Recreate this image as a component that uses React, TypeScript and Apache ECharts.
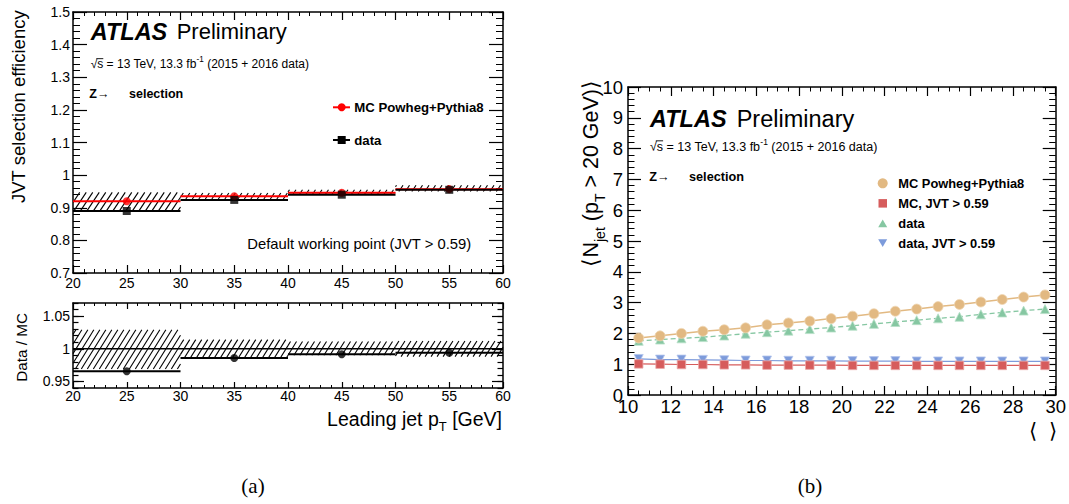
import React, { useEffect, useRef } from "react";
import * as echarts from "echarts";

const FONT = "'Liberation Sans', Arial, Helvetica, sans-serif";
const SERIF = "'Liberation Serif', 'Times New Roman', serif";

// ---------- Panel (a): JVT efficiency vs leading jet pT ----------
const ptBinLo = [20, 30, 40, 50];
const ptBinHi = [30, 40, 50, 60];
const ptCenters = [25, 35, 45, 55];
const effMC = [0.92, 0.935, 0.946, 0.957];
const effMCStat = [0.001, 0.001, 0.002, 0.002];
const effData = [0.89, 0.924, 0.94, 0.955];
const effBandLo = [0.892, 0.927, 0.94, 0.95];
const effBandHi = [0.947, 0.945, 0.955, 0.969];
const ratioVals = [0.9655, 0.986, 0.9917, 0.9938];
const ratioBandLo = [0.969, 0.986, 0.99, 0.988];
const ratioBandHi = [1.029, 1.014, 1.011, 1.012];
const ratioMajorTicks = [0.95, 1, 1.05];

// ---------- Panel (b): <N_jet> vs <mu> ----------
const muBins = [10.5, 11.5, 12.5, 13.5, 14.5, 15.5, 16.5, 17.5, 18.5, 19.5, 20.5, 21.5, 22.5, 23.5, 24.5, 25.5, 26.5, 27.5, 28.5, 29.5];
const nJetMC = [1.85, 1.92, 2.0, 2.07, 2.12, 2.18, 2.28, 2.34, 2.4, 2.48, 2.56, 2.64, 2.72, 2.79, 2.87, 2.94, 3.02, 3.1, 3.18, 3.25];
const nJetMCJVT = [1.01, 1.0, 0.99, 0.99, 0.98, 0.98, 0.97, 0.97, 0.97, 0.97, 0.96, 0.96, 0.96, 0.96, 0.96, 0.96, 0.96, 0.96, 0.96, 0.96];
const nJetData = [1.76, 1.8, 1.84, 1.88, 1.93, 1.99, 2.04, 2.09, 2.14, 2.19, 2.25, 2.31, 2.37, 2.43, 2.49, 2.54, 2.62, 2.68, 2.74, 2.79];
const nJetDataJVT = [1.17, 1.15, 1.15, 1.14, 1.13, 1.12, 1.12, 1.11, 1.11, 1.11, 1.1, 1.1, 1.1, 1.09, 1.09, 1.09, 1.09, 1.09, 1.09, 1.09];

const TAN = "#e2b982";
const RED = "#d65c5c";
const GREEN = "#86c7a2";
const BLUE = "#7d9bdb";

let mctx: CanvasRenderingContext2D | null = null;
function textWidth(t: string, font: string): number {
  if (!mctx) mctx = document.createElement("canvas").getContext("2d");
  if (!mctx) return t.length * 7;
  mctx.font = font;
  return mctx.measureText(t).width;
}

type Seg = { t: string; size: number; weight?: string; style?: string; dy?: number };
function richLine(segs: Seg[], x: number, y: number, align: "left" | "right" | "center", rotation = 0, family = FONT) {
  const widths = segs.map((s) => textWidth(s.t, `${s.style || "normal"} ${s.weight || "normal"} ${s.size}px ${family}`));
  const total = widths.reduce((a, b) => a + b, 0);
  let cx = align === "left" ? 0 : align === "right" ? -total : -total / 2;
  const children = segs.map((s, i) => {
    const el = {
      type: "text",
      x: cx,
      y: s.dy || 0,
      silent: true,
      style: {
        text: s.t,
        fill: "#000",
        fontSize: s.size,
        fontFamily: family,
        fontWeight: s.weight || "normal",
        fontStyle: s.style || "normal",
        align: "left",
        textAlign: "left",
        verticalAlign: "middle",
        textVerticalAlign: "middle",
      },
    };
    cx += widths[i];
    return el;
  });
  return { type: "group", x, y, rotation, children };
}

function sqrtLine(x: number, y: number, size: number) {
  const wRoot = textWidth("√", `${size}px ${FONT}`);
  const wS = textWidth("s", `${size}px ${FONT}`);
  const g: any = richLine([{ t: "√s = 13 TeV, 13.3 fb", size }, { t: "-1", size: size * 0.68, dy: -4.5 }, { t: " (2015 + 2016 data)", size }], x, y, "left");
  g.children.push({
    type: "line",
    silent: true,
    shape: { x1: wRoot * 0.85, y1: -size * 0.47, x2: wRoot + wS, y2: -size * 0.47 },
    style: { stroke: "#000", lineWidth: 0.9 },
  });
  return g;
}

function txt(t: string, x: number, y: number, size: number, weight = "normal", style = "normal", align = "left", family = FONT) {
  return {
    type: "text",
    x,
    y,
    silent: true,
    style: {
      text: t,
      fill: "#000",
      fontSize: size,
      fontFamily: family,
      fontWeight: weight,
      fontStyle: style,
      align,
      textAlign: align,
      verticalAlign: "middle",
      textVerticalAlign: "middle",
    },
  };
}

function hatchRender(spacing: number, slope: number) {
  return (_params: any, api: any) => {
    const pA = api.coord([api.value(0), api.value(3)]);
    const pB = api.coord([api.value(1), api.value(2)]);
    const left = pA[0], top = pA[1], right = pB[0], bottom = pB[1];
    const children: any[] = [];
    const cMin = left + top / slope;
    const cMax = right + bottom / slope;
    const cStart = Math.ceil(cMin / spacing) * spacing;
    for (let c = cStart; c <= cMax; c += spacing) {
      const xa = Math.max(left, c - bottom / slope);
      const xb = Math.min(right, c - top / slope);
      if (xb - xa > 0.2) {
        children.push({
          type: "line",
          shape: { x1: xa, y1: (c - xa) * slope, x2: xb, y2: (c - xb) * slope },
          style: { stroke: "#000", lineWidth: 1.1 },
        });
      }
    }
    return { type: "group", children };
  };
}

function segRender(color: string, width: number) {
  return (_params: any, api: any) => {
    const p0 = api.coord([api.value(0), api.value(2)]);
    const p1 = api.coord([api.value(1), api.value(2)]);
    return {
      type: "line",
      shape: { x1: p0[0], y1: p0[1], x2: p1[0], y2: p1[1] },
      style: { stroke: color, lineWidth: width },
    };
  };
}

function rectRender(color: string) {
  return (_params: any, api: any) => {
    const pA = api.coord([api.value(0), api.value(3)]);
    const pB = api.coord([api.value(1), api.value(2)]);
    return {
      type: "rect",
      shape: { x: pA[0], y: pA[1], width: pB[0] - pA[0], height: pB[1] - pA[1] },
      style: { fill: color },
    };
  };
}

function axis(opts: any) {
  const { gridIndex, position, min, max, interval, minorSplit, majorLen, minorLen, labels, fontSize, margin } = opts;
  return {
    type: "value",
    gridIndex,
    position,
    min,
    max,
    interval,
    axisLine: { show: opts.line !== false, onZero: false, lineStyle: { color: "#000", width: 1.5 } },
    axisTick: {
      show: true,
      inside: true,
      length: majorLen,
      lineStyle: { color: "#000", width: 1.2 },
      ...(opts.tickValues ? { customValues: opts.tickValues } : {}),
    },
    minorTick: { show: minorSplit > 0, splitNumber: minorSplit || 5, length: minorLen, lineStyle: { color: "#000", width: 1 } },
    splitLine: { show: false },
    minorSplitLine: { show: false },
    axisLabel: {
      show: !!labels,
      color: "#000",
      fontFamily: FONT,
      fontSize: fontSize || 12,
      margin: margin || 4,
      ...(opts.tickValues ? { customValues: opts.tickValues } : {}),
    },
  };
}

export default function App() {
  const ref = useRef<HTMLDivElement>(null);
  useEffect(() => {
    if (!ref.current) return;
    const chart = echarts.init(ref.current, undefined, { renderer: "svg" });

    const effBand = ptBinLo.map((lo, i) => [lo, ptBinHi[i], effBandLo[i], effBandHi[i]]);
    const mcStat = ptBinLo.map((lo, i) => [lo, ptBinHi[i], effMC[i] - effMCStat[i], effMC[i] + effMCStat[i]]);
    const mcSegs = ptBinLo.map((lo, i) => [lo, ptBinHi[i], effMC[i]]);
    const dataSegs = ptBinLo.map((lo, i) => [lo, ptBinHi[i], effData[i]]);
    const ratioBand = ptBinLo.map((lo, i) => [lo, ptBinHi[i], ratioBandLo[i], ratioBandHi[i]]);
    const ratioSegs = ptBinLo.map((lo, i) => [lo, ptBinHi[i], ratioVals[i]]);
    const unityLine = [[ptBinLo[0], ptBinHi[ptBinHi.length - 1], 1]];

    const option: any = {
      animation: false,
      backgroundColor: "#fff",
      grid: [
        { left: 73, top: 12, width: 430, height: 261 },
        { left: 73, top: 303, width: 430, height: 85 },
        { left: 628, top: 87, width: 429, height: 308 },
      ],
      xAxis: [
        axis({ gridIndex: 0, position: "bottom", min: 20, max: 60, interval: 5, minorSplit: 5, majorLen: 8, minorLen: 4, labels: true, fontSize: 14, margin: 3 }),
        axis({ gridIndex: 0, position: "top", min: 20, max: 60, interval: 5, minorSplit: 5, majorLen: 8, minorLen: 4 }),
        axis({ gridIndex: 1, position: "bottom", min: 20, max: 60, interval: 5, minorSplit: 5, majorLen: 6, minorLen: 3, labels: true, fontSize: 14, margin: 1 }),
        axis({ gridIndex: 1, position: "top", min: 20, max: 60, interval: 5, minorSplit: 5, majorLen: 6, minorLen: 3 }),
        axis({ gridIndex: 2, position: "bottom", min: 10, max: 30, interval: 2, minorSplit: 4, majorLen: 9, minorLen: 4.5, labels: true, fontSize: 18.5, margin: 2 }),
        axis({ gridIndex: 2, position: "top", min: 10, max: 30, interval: 2, minorSplit: 4, majorLen: 9, minorLen: 4.5 }),
      ],
      yAxis: [
        axis({ gridIndex: 0, position: "left", min: 0.7, max: 1.5, interval: 0.1, minorSplit: 5, majorLen: 14, minorLen: 7, labels: true, fontSize: 14, margin: 3 }),
        axis({ gridIndex: 0, position: "right", min: 0.7, max: 1.5, interval: 0.1, minorSplit: 5, majorLen: 14, minorLen: 7 }),
        axis({ gridIndex: 1, position: "left", min: 0.94, max: 1.07, minorSplit: 0, majorLen: 11, minorLen: 5, labels: true, fontSize: 14, margin: 3, tickValues: ratioMajorTicks }),
        axis({ gridIndex: 1, position: "right", min: 0.94, max: 1.07, minorSplit: 0, majorLen: 11, minorLen: 5, tickValues: ratioMajorTicks }),
        axis({ gridIndex: 1, position: "left", min: 0.94, max: 1.07, interval: 0.01, minorSplit: 0, majorLen: 5.5, minorLen: 3, line: false }),
        axis({ gridIndex: 1, position: "right", min: 0.94, max: 1.07, interval: 0.01, minorSplit: 0, majorLen: 5.5, minorLen: 3, line: false }),
        axis({ gridIndex: 2, position: "left", min: 0, max: 10, interval: 1, minorSplit: 5, majorLen: 13, minorLen: 6.5, labels: true, fontSize: 18.5, margin: 5 }),
        axis({ gridIndex: 2, position: "right", min: 0, max: 10, interval: 1, minorSplit: 5, majorLen: 13, minorLen: 6.5 }),
      ],
      series: [
        // ---- panel (a) top ----
        { type: "custom", name: "MC syst band", xAxisIndex: 0, yAxisIndex: 0, renderItem: hatchRender(6.5, 1.5), data: effBand, z: 2, clip: true, encode: { x: [0, 1], y: [2, 3] } },
        { type: "custom", name: "MC stat", xAxisIndex: 0, yAxisIndex: 0, renderItem: rectRender("rgba(255,0,0,0.35)"), data: mcStat, z: 3, encode: { x: [0, 1], y: [2, 3] } },
        { type: "custom", name: "MC line", xAxisIndex: 0, yAxisIndex: 0, renderItem: segRender("#ff0000", 2), data: mcSegs, z: 4, encode: { x: [0, 1], y: 2 } },
        { type: "custom", name: "data line", xAxisIndex: 0, yAxisIndex: 0, renderItem: segRender("#000", 2), data: dataSegs, z: 4, encode: { x: [0, 1], y: 2 } },
        { type: "scatter", name: "MC Powheg+Pythia8 (a)", xAxisIndex: 0, yAxisIndex: 0, symbol: "circle", symbolSize: 8, itemStyle: { color: "#ff0000" }, data: ptCenters.map((x, i) => [x, effMC[i]]), z: 5 },
        { type: "scatter", name: "data (a)", xAxisIndex: 0, yAxisIndex: 0, symbol: "rect", symbolSize: 8, itemStyle: { color: "#000" }, data: ptCenters.map((x, i) => [x, effData[i]]), z: 6 },
        // ---- panel (a) ratio ----
        { type: "custom", name: "ratio band", xAxisIndex: 2, yAxisIndex: 2, renderItem: hatchRender(6, 1.6), data: ratioBand, z: 2, encode: { x: [0, 1], y: [2, 3] } },
        { type: "custom", name: "unity", xAxisIndex: 2, yAxisIndex: 2, renderItem: segRender("#000", 1.5), data: unityLine, z: 3, encode: { x: [0, 1], y: 2 } },
        { type: "custom", name: "ratio line", xAxisIndex: 2, yAxisIndex: 2, renderItem: segRender("#000", 2), data: ratioSegs, z: 4, encode: { x: [0, 1], y: 2 } },
        { type: "scatter", name: "Data / MC", xAxisIndex: 2, yAxisIndex: 2, symbol: "circle", symbolSize: 8, itemStyle: { color: "#000" }, data: ptCenters.map((x, i) => [x, ratioVals[i]]), z: 5 },
        // ---- panel (b) ----
        { type: "line", name: "data", xAxisIndex: 4, yAxisIndex: 6, symbol: "triangle", symbolSize: 9, showAllSymbol: true, lineStyle: { color: GREEN, width: 1.3, type: [5, 3] }, itemStyle: { color: GREEN, borderColor: "#b7dfc8", borderWidth: 0.8 }, data: muBins.map((x, i) => [x, nJetData[i]]), z: 3 },
        { type: "line", name: "data, JVT > 0.59", xAxisIndex: 4, yAxisIndex: 6, symbol: "triangle", symbolRotate: 180, symbolSize: 9, showAllSymbol: true, lineStyle: { color: BLUE, width: 1.2 }, itemStyle: { color: BLUE, borderColor: "#b4c5ec", borderWidth: 0.8 }, data: muBins.map((x, i) => [x, nJetDataJVT[i]]), z: 3 },
        { type: "line", name: "MC Powheg+Pythia8", xAxisIndex: 4, yAxisIndex: 6, symbol: "circle", symbolSize: 10, showAllSymbol: true, lineStyle: { color: TAN, width: 1.5 }, itemStyle: { color: TAN, borderColor: "#efd6b3", borderWidth: 0.8 }, data: muBins.map((x, i) => [x, nJetMC[i]]), z: 4 },
        { type: "line", name: "MC, JVT > 0.59", xAxisIndex: 4, yAxisIndex: 6, symbol: "rect", symbolSize: 8.5, showAllSymbol: true, lineStyle: { color: RED, width: 1.2 }, itemStyle: { color: RED, borderColor: "#eaa7a7", borderWidth: 0.8 }, data: muBins.map((x, i) => [x, nJetMCJVT[i]]), z: 4 },
      ],
      graphic: {
        elements: [
          // ---- panel (a) texts ----
          txt("ATLAS", 90.7, 31.7, 23.5, "bold", "italic"),
          txt("Preliminary", 176.7, 31.7, 22),
          sqrtLine(90.7, 64.3, 12),
          txt("Z→", 89.3, 94, 12.5, "bold"),
          txt("selection", 129, 94, 12.5, "bold"),
          { type: "line", shape: { x1: 333, y1: 107.3, x2: 350, y2: 107.3 }, style: { stroke: "#ff0000", lineWidth: 2 }, silent: true },
          { type: "circle", shape: { cx: 341.7, cy: 107.3, r: 4 }, style: { fill: "#ff0000" }, silent: true },
          txt("MC Powheg+Pythia8", 354.3, 107.3, 13.2, "bold"),
          { type: "line", shape: { x1: 333, y1: 140, x2: 350, y2: 140 }, style: { stroke: "#000", lineWidth: 2 }, silent: true },
          { type: "rect", shape: { x: 337.7, y: 136, width: 8, height: 8 }, style: { fill: "#000" }, silent: true },
          txt("data", 354.3, 140, 13.2, "bold"),
          txt("Default working point (JVT > 0.59)", 247.3, 244.3, 14.8),
          richLine([{ t: "JVT selection efficiency", size: 18.5 }], 18, 10, "right", Math.PI / 2),
          richLine([{ t: "Data / MC", size: 15.3 }], 21.7, 313, "right", Math.PI / 2),
          richLine([{ t: "Leading jet p", size: 19.5 }, { t: "T", size: 13, dy: 8 }, { t: " [GeV]", size: 19.5 }], 502, 418.5, "right"),
          // ---- panel (b) texts ----
          txt("ATLAS", 650, 119.3, 23.5, "bold", "italic"),
          txt("Preliminary", 736.7, 119.3, 23.5),
          sqrtLine(650, 146.7, 12.5),
          txt("Z→", 649.3, 176.7, 12.7, "bold"),
          txt("selection", 689, 176.7, 12.7, "bold"),
          { type: "circle", shape: { cx: 882.7, cy: 183.3, r: 5 }, style: { fill: TAN }, silent: true },
          txt("MC Powheg+Pythia8", 898.3, 183.3, 12.85, "bold"),
          { type: "rect", shape: { x: 878.5, y: 199.1, width: 8.5, height: 8.5 }, style: { fill: RED }, silent: true },
          txt("MC, JVT > 0.59", 898.3, 203.3, 12.85, "bold"),
          { type: "polygon", shape: { points: [[878.2, 227.3], [887.2, 227.3], [882.7, 219.5]] }, style: { fill: GREEN }, silent: true },
          txt("data", 898.3, 223.3, 12.85, "bold"),
          { type: "polygon", shape: { points: [[878.2, 239.3], [887.2, 239.3], [882.7, 247.1]] }, style: { fill: BLUE }, silent: true },
          txt("data, JVT > 0.59", 898.3, 243.3, 12.85, "bold"),
          richLine(
            [
              { t: "⟨N", size: 21.5 },
              { t: "jet", size: 14, dy: 9 },
              { t: " (p", size: 21.5 },
              { t: "T", size: 14, dy: 9 },
              { t: " > 20 GeV)⟩", size: 21.5 },
            ],
            591,
            80,
            "right",
            Math.PI / 2
          ),
          txt("⟨\u00a0\u00a0⟩", 1057, 430, 21, "normal", "normal", "right"),
          // ---- sub-figure captions ----
          txt("(a)", 253, 486, 21, "normal", "normal", "center", SERIF),
          txt("(b)", 810, 486, 21, "normal", "normal", "center", SERIF),
        ],
      },
    };

    chart.setOption(option);
    return () => chart.dispose();
  }, []);

  return (
    <div
      ref={ref}
      style={{ position: "fixed", left: 0, top: 0, width: 1069, height: 504, background: "#fff" }}
    />
  );
}
